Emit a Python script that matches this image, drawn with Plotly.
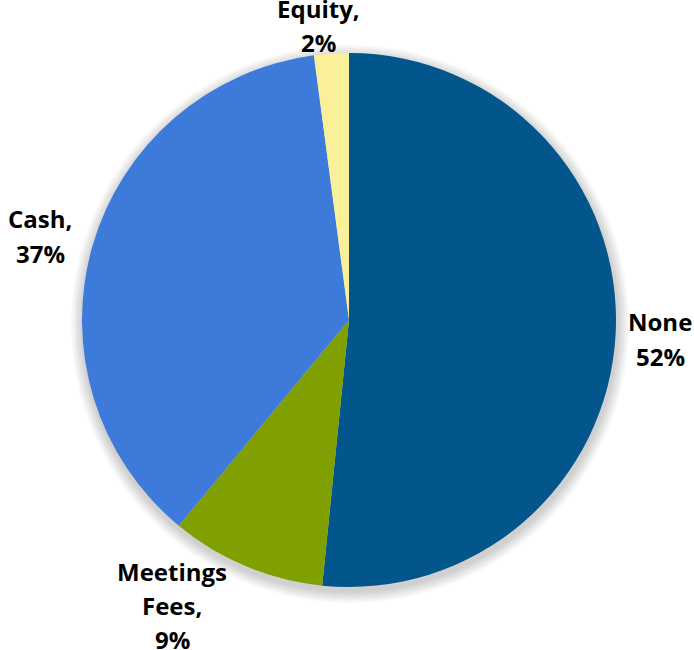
import plotly.graph_objects as go

W, H = 694, 650

categories = ["None", "Meetings Fees", "Cash", "Equity"]
values = [51.6, 9.4, 36.9, 2.1]
colors = ["#03568C", "#7FA000", "#3E7AD9", "#FAF09A"]
label_lines = [["None", "52%"], ["Meetings", "Fees,", "9%"], ["Cash,", "37%"], ["Equity,", "2%"]]
# label anchor (px): centre x, y of first line
label_pos = [(660, 322), (172, 571), (40, 219), (318, 8)]

cx, cy, r = 349, 320, 267


def domain(cxp, cyp, rp):
    return dict(x=[(cxp - rp) / W, (cxp + rp) / W],
                y=[1 - (cyp + rp) / H, 1 - (cyp - rp) / H])


fig = go.Figure()

# soft shadow
for k in range(1, 9):
    fig.add_trace(go.Pie(values=[1], labels=["s"], marker=dict(colors=["rgba(0,0,0,0.022)"]),
                         domain=domain(cx + 1, cy + 4, r + k * 1.5), textinfo="none",
                         hoverinfo="skip", showlegend=False, sort=False))

fig.add_trace(go.Pie(
    labels=categories, values=values, sort=False, direction="clockwise", rotation=0,
    marker=dict(colors=colors, line=dict(width=0)),
    textinfo="none", showlegend=False, domain=domain(cx, cy, r),
))

line_h = 34
for lines, (lx, ly) in zip(label_lines, label_pos):
    for i, t in enumerate(lines):
        fig.add_annotation(text=t, x=lx / W, y=1 - (ly + i * line_h) / H, xref="paper", yref="paper",
                           xanchor="center", yanchor="middle", showarrow=False,
                           font=dict(family="Open Sans", size=24, color="#000000", weight="bold"))

fig.update_layout(width=W, height=H, margin=dict(l=0, r=0, t=0, b=0),
                  paper_bgcolor="white", plot_bgcolor="white", showlegend=False)

fig.write_html("out.html")
